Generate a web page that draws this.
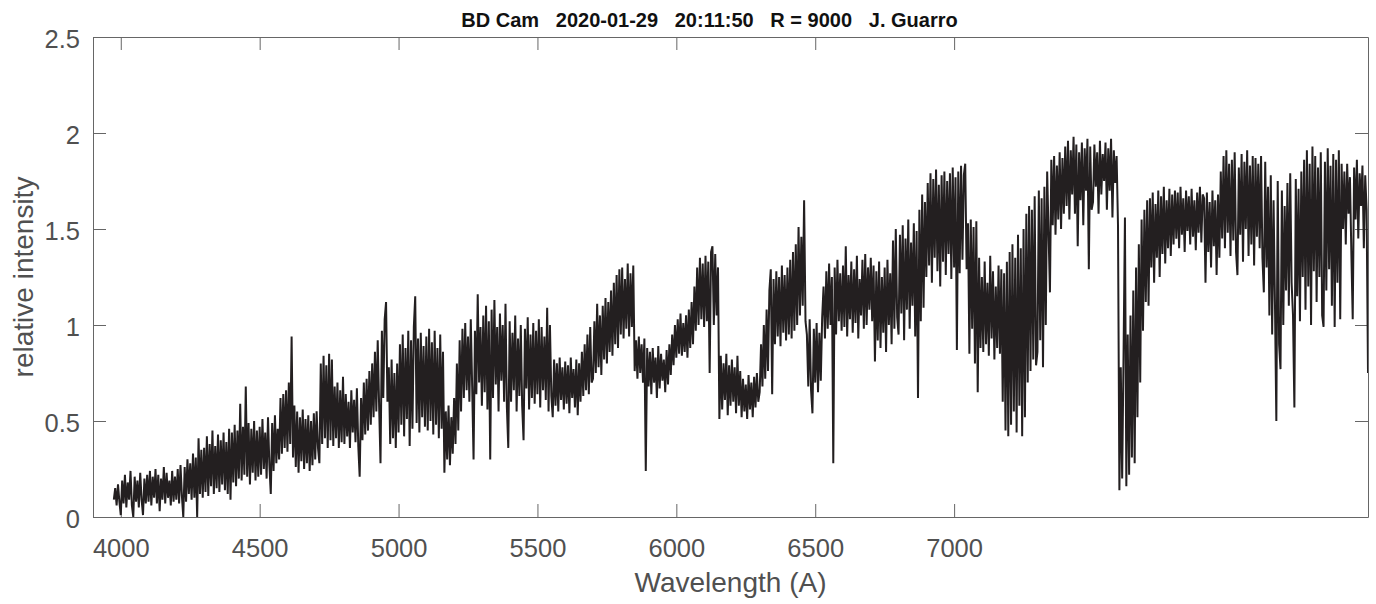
<!DOCTYPE html>
<html>
<head>
<meta charset="utf-8">
<script src="https://cdn.jsdelivr.net/npm/d3@7"></script>
<style>
  html, body { margin: 0; padding: 0; background: #fff; }
  #chart { width: 1376px; height: 604px; }
</style>
</head>
<body>
<div id="chart"></div>
<script>
// Spectrum sampling: first wavelength and step, in Angstrom.
const wavelengthStart = 3975;
const wavelengthStep = 5;

// Relative intensity, one row per 100 A.
const flux = [
  0.09, 0.15, 0.06, 0.17, 0.08, // 3975
  0.01, 0.19, 0.07, 0.22, 0.05, 0.18, 0.09, 0.24, 0.06, 0.00, 0.21, 0.08, 0.19, 0.05, 0.23, 0.09, 0.01, 0.20, 0.07, 0.22, // 4000
  0.08, 0.24, 0.06, 0.21, 0.10, 0.25, 0.07, 0.22, 0.03, 0.20, 0.09, 0.26, 0.07, 0.23, 0.10, 0.19, 0.06, 0.24, 0.08, 0.21, // 4100
  0.09, 0.25, 0.07, 0.27, 0.11, 0.00, 0.26, 0.08, 0.30, 0.12, 0.28, 0.09, 0.33, 0.10, 0.31, 0.00, 0.41, 0.12, 0.35, 0.10, // 4200
  0.36, 0.13, 0.42, 0.11, 0.38, 0.16, 0.45, 0.12, 0.37, 0.15, 0.43, 0.13, 0.40, 0.17, 0.44, 0.14, 0.39, 0.12, 0.46, 0.09, // 4300
  0.44, 0.18, 0.48, 0.16, 0.45, 0.20, 0.59, 0.19, 0.47, 0.22, 0.68, 0.21, 0.49, 0.17, 0.46, 0.23, 0.50, 0.19, 0.45, 0.21, // 4400
  0.47, 0.22, 0.51, 0.25, 0.44, 0.20, 0.52, 0.27, 0.12, 0.49, 0.24, 0.53, 0.28, 0.46, 0.30, 0.62, 0.33, 0.64, 0.36, 0.66, // 4500
  0.34, 0.70, 0.38, 0.94, 0.31, 0.58, 0.26, 0.55, 0.23, 0.52, 0.29, 0.56, 0.25, 0.51, 0.28, 0.53, 0.24, 0.50, 0.27, 0.54, // 4600
  0.30, 0.55, 0.36, 0.28, 0.80, 0.38, 0.84, 0.41, 0.79, 0.36, 0.85, 0.40, 0.82, 0.37, 0.68, 0.41, 0.70, 0.36, 0.66, 0.39, // 4700
  0.73, 0.38, 0.64, 0.42, 0.60, 0.36, 0.66, 0.44, 0.61, 0.39, 0.67, 0.37, 0.21, 0.62, 0.40, 0.70, 0.43, 0.72, 0.45, 0.76, // 4800
  0.48, 0.80, 0.52, 0.86, 0.55, 0.92, 0.58, 0.28, 0.97, 0.62, 1.03, 1.12, 0.60, 0.78, 0.38, 0.82, 0.41, 0.75, 0.36, 0.80, // 4900
  0.44, 0.90, 0.48, 0.95, 0.42, 0.88, 0.51, 0.97, 0.37, 0.92, 0.46, 0.99, 1.15, 0.49, 0.93, 0.44, 0.96, 0.52, 0.89, 0.47, // 5000
  0.94, 0.45, 0.98, 0.50, 0.91, 0.43, 0.97, 0.48, 0.88, 0.41, 0.95, 0.46, 0.86, 0.23, 0.55, 0.30, 0.58, 0.27, 0.52, 0.33, // 5100
  0.62, 0.38, 0.80, 0.45, 0.92, 0.55, 0.98, 0.62, 1.01, 0.66, 0.94, 0.60, 1.03, 0.68, 0.30, 0.97, 0.64, 1.16, 0.70, 0.99, // 5200
  0.58, 1.05, 0.65, 1.10, 0.56, 1.02, 0.30, 1.08, 0.62, 1.13, 0.69, 0.99, 0.55, 1.06, 0.71, 1.00, 0.60, 1.11, 0.57, 0.36, // 5300
  1.02, 0.60, 0.96, 0.66, 1.05, 0.55, 0.93, 0.63, 1.00, 0.58, 0.40, 0.98, 0.67, 1.04, 0.56, 0.95, 0.62, 1.01, 0.59, 0.97, // 5400
  0.64, 1.03, 0.57, 0.99, 0.66, 0.94, 0.61, 1.09, 0.55, 1.00, 0.63, 0.52, 0.82, 0.58, 0.80, 0.55, 0.83, 0.61, 0.78, 0.56, // 5500
  0.81, 0.59, 0.79, 0.54, 0.83, 0.62, 0.77, 0.57, 0.82, 0.53, 0.80, 0.60, 0.86, 0.63, 0.90, 0.66, 0.95, 0.64, 0.99, 0.70, // 5600
  0.72, 1.02, 0.75, 1.11, 0.78, 1.05, 0.74, 1.10, 0.82, 1.14, 0.80, 1.12, 0.86, 1.18, 0.84, 1.22, 0.90, 1.26, 0.88, 1.29, // 5700
  0.95, 1.30, 0.93, 1.24, 0.98, 1.32, 0.94, 1.27, 0.99, 1.31, 0.76, 0.92, 0.72, 0.94, 0.75, 0.90, 0.70, 0.93, 0.24, 0.88, // 5800
  0.68, 0.86, 0.64, 0.88, 0.70, 0.83, 0.62, 0.89, 0.67, 0.85, 0.71, 0.82, 0.65, 0.87, 0.69, 0.90, 0.74, 0.95, 0.79, 1.00, // 5900
  0.83, 1.03, 0.85, 1.06, 0.84, 1.01, 0.86, 1.05, 0.83, 1.08, 0.88, 1.12, 0.90, 1.20, 0.97, 1.30, 1.00, 1.35, 1.03, 1.32, // 6000
  0.99, 1.36, 1.02, 1.33, 0.75, 1.38, 1.41, 1.00, 1.37, 1.05, 1.30, 0.51, 0.84, 0.56, 0.80, 0.61, 0.85, 0.53, 0.79, 0.58, // 6100
  0.82, 0.60, 0.78, 0.54, 0.84, 0.58, 0.76, 0.52, 0.72, 0.55, 0.69, 0.51, 0.74, 0.56, 0.70, 0.52, 0.73, 0.57, 0.75, 0.60, // 6200
  0.65, 0.90, 0.68, 1.00, 0.72, 1.08, 0.76, 1.18, 1.29, 0.64, 1.24, 0.90, 1.28, 0.94, 1.25, 0.89, 1.31, 0.96, 1.26, 0.92, // 6300
  1.30, 0.95, 1.34, 0.93, 1.38, 0.97, 1.42, 1.00, 1.51, 1.05, 1.46, 1.10, 1.65, 1.02, 0.95, 0.68, 1.03, 0.66, 0.54, 0.98, // 6400
  0.70, 1.01, 0.65, 0.96, 0.71, 1.04, 1.20, 0.93, 1.28, 0.98, 1.32, 1.00, 1.25, 0.28, 1.30, 0.95, 1.34, 1.02, 1.27, 0.97, // 6500
  1.31, 0.99, 1.41, 0.94, 1.26, 1.03, 1.33, 0.96, 1.29, 1.01, 1.36, 0.93, 1.24, 1.05, 1.34, 0.98, 1.37, 1.00, 1.30, 1.08, // 6600
  1.35, 1.02, 1.31, 0.81, 1.28, 0.92, 1.33, 0.88, 1.25, 0.96, 1.30, 0.86, 1.34, 1.00, 1.27, 0.90, 1.44, 0.98, 1.50, 1.04, // 6700
  0.95, 1.47, 1.06, 1.52, 0.92, 1.45, 1.08, 1.55, 0.98, 1.43, 1.10, 1.53, 0.94, 1.49, 0.62, 1.60, 1.02, 1.68, 1.09, 1.64, // 6800
  1.25, 1.74, 1.31, 1.79, 1.22, 1.76, 1.35, 1.81, 1.28, 1.73, 1.20, 1.78, 1.33, 1.80, 1.26, 1.75, 1.37, 1.79, 1.24, 1.82, // 6900
  1.30, 1.77, 0.87, 1.80, 1.27, 1.83, 1.34, 1.78, 1.84, 1.29, 1.53, 0.85, 1.55, 0.98, 1.51, 0.80, 1.54, 0.65, 1.35, 0.88, // 7000
  1.25, 0.86, 1.33, 0.90, 1.22, 0.84, 1.36, 0.93, 1.28, 0.82, 1.20, 0.88, 1.31, 0.85, 1.29, 0.60, 1.27, 0.45, 1.33, 0.42, // 7100
  1.38, 0.48, 1.42, 0.55, 1.35, 0.44, 1.47, 0.58, 1.40, 0.42, 1.50, 0.52, 1.58, 0.70, 1.62, 0.76, 1.60, 0.82, 1.67, 0.79, // 7200
  0.86, 1.70, 0.92, 1.66, 0.78, 1.72, 1.00, 1.80, 1.48, 1.17, 1.86, 1.52, 1.88, 1.47, 1.83, 1.55, 1.90, 1.50, 1.87, 1.58, // 7300
  1.93, 1.62, 1.96, 1.55, 1.91, 1.68, 1.98, 1.58, 1.94, 1.41, 1.90, 1.65, 1.95, 1.52, 1.92, 1.70, 1.97, 1.29, 1.93, 1.60, // 7400
  1.64, 1.94, 1.72, 1.90, 1.58, 1.96, 1.68, 1.89, 1.75, 1.95, 1.60, 1.92, 1.70, 1.97, 1.56, 1.91, 1.74, 1.88, 1.52, 0.14, // 7500
  0.78, 0.20, 0.85, 1.56, 0.16, 0.95, 0.22, 1.05, 0.31, 1.18, 0.28, 1.30, 0.52, 1.42, 0.70, 1.55, 0.97, 1.60, 1.12, 1.65, // 7600
  1.10, 1.66, 1.30, 1.69, 1.22, 1.63, 1.35, 1.70, 1.25, 1.67, 1.37, 1.72, 1.32, 1.65, 1.40, 1.71, 1.36, 1.68, 1.42, 1.70, // 7700
  1.45, 1.69, 1.40, 1.72, 1.47, 1.66, 1.38, 1.70, 1.49, 1.67, 1.42, 1.71, 1.46, 1.65, 1.39, 1.69, 1.48, 1.72, 1.43, 1.68, // 7800
  1.66, 1.22, 1.69, 1.38, 1.64, 1.30, 1.70, 1.41, 1.65, 1.26, 1.68, 1.35, 1.80, 1.45, 1.88, 1.40, 1.91, 1.48, 1.84, 1.36, // 7900
  1.86, 1.44, 1.90, 1.38, 1.26, 1.82, 1.47, 1.89, 1.33, 1.85, 1.50, 1.91, 1.36, 1.83, 1.42, 1.88, 1.31, 1.87, 1.46, 1.84, // 8000
  1.40, 1.88, 1.35, 1.17, 1.85, 1.30, 1.72, 1.05, 1.78, 0.95, 1.65, 1.12, 0.50, 1.75, 0.90, 0.77, 1.70, 1.00, 1.62, 1.18, // 8100
  1.74, 1.10, 1.79, 1.22, 1.05, 0.57, 1.76, 1.15, 1.71, 1.02, 1.80, 1.25, 1.86, 1.08, 1.91, 1.20, 1.84, 1.00, 1.93, 1.28, // 8200
  1.88, 1.12, 1.82, 1.25, 1.90, 1.05, 0.99, 1.85, 1.18, 1.92, 1.29, 1.83, 1.10, 1.89, 0.99, 1.86, 1.22, 1.91, 1.03, 1.84, // 8300
  1.50, 1.80, 1.42, 1.84, 1.58, 1.77, 1.38, 1.03, 1.82, 1.55, 1.86, 1.45, 1.79, 1.62, 1.83, 1.40, 1.78, 1.60, 0.75 // 8400
];

// Axis limits and tick labels.
const xDomain = [3900, 8490];
const yDomain = [0, 2.5];
const xTickValues = [4000, 4500, 5000, 5500, 6000, 6500, 7000];
const yTickValues = [0, 0.5, 1, 1.5, 2, 2.5];

// Texts.
const titleText = "BD Cam   2020-01-29   20:11:50   R = 9000   J. Guarro";
const xAxisTitle = "Wavelength (A)";
const yAxisTitle = "relative intensity";

/**
 * Layout.
 */
const width = 1376;
const height = 604;
const marginTop = 37;
const marginRight = 8;
const marginBottom = 87;
const marginLeft = 93;
const tickLength = 13;
const fontFamily = "'Liberation Sans', Arial, Helvetica, sans-serif";
const axisColor = "#666666";
const labelColor = "#505050";
const lineColor = "#231f20";

// Create the SVG element.
const svg = d3
  .select("#chart")
  .append("svg")
  .attr("width", width)
  .attr("height", height)
  .style("background", "#fff");

// Create the horizontal scale.
const x = d3
  .scaleLinear()
  .domain(xDomain)
  .range([marginLeft, width - marginRight]);

// Create the vertical scale.
const y = d3
  .scaleLinear()
  .domain(yDomain)
  .range([height - marginBottom, marginTop]);

/**
 * Axes (box with inward ticks on all four sides).
 */
function styleAxis(g) {
  g.attr("font-family", fontFamily).attr("font-size", 25.5);
  g.select(".domain").attr("stroke", axisColor).attr("stroke-width", 1);
  g.selectAll(".tick line").attr("stroke", axisColor).attr("stroke-width", 1);
  g.selectAll(".tick text").attr("fill", labelColor);
}

// Bottom x-axis.
svg
  .append("g")
  .attr("transform", `translate(0, ${height - marginBottom})`)
  .call(
    d3
      .axisBottom(x)
      .tickValues(xTickValues)
      .tickFormat(d3.format("d"))
      .tickSizeInner(-tickLength)
      .tickSizeOuter(0)
      .tickPadding(22)
  )
  .call(styleAxis);

// Top x-axis, ticks only.
svg
  .append("g")
  .attr("transform", `translate(0, ${marginTop})`)
  .call(
    d3
      .axisTop(x)
      .tickValues(xTickValues)
      .tickFormat(() => "")
      .tickSizeInner(-tickLength)
      .tickSizeOuter(0)
  )
  .call(styleAxis);

// Left y-axis.
svg
  .append("g")
  .attr("transform", `translate(${marginLeft}, 0)`)
  .call(
    d3
      .axisLeft(y)
      .tickValues(yTickValues)
      .tickFormat(d3.format("~g"))
      .tickSizeInner(-tickLength)
      .tickSizeOuter(0)
      .tickPadding(13)
  )
  .call(styleAxis)
  .call((g) => g.selectAll(".tick text").attr("dy", "0.4em"));

// Right y-axis, ticks only.
svg
  .append("g")
  .attr("transform", `translate(${width - marginRight}, 0)`)
  .call(
    d3
      .axisRight(y)
      .tickValues(yTickValues)
      .tickFormat(() => "")
      .tickSizeInner(-tickLength)
      .tickSizeOuter(0)
  )
  .call(styleAxis);

/**
 * Titles.
 */
svg
  .append("text")
  .attr("x", 709.5)
  .attr("y", 27)
  .attr("text-anchor", "middle")
  .attr("font-family", fontFamily)
  .attr("font-size", 20)
  .attr("font-weight", "bold")
  .attr("fill", "#111")
  .style("white-space", "pre")
  .text(titleText);

svg
  .append("text")
  .attr("x", (marginLeft + width - marginRight) / 2)
  .attr("y", 592)
  .attr("text-anchor", "middle")
  .attr("font-family", fontFamily)
  .attr("font-size", 28)
  .attr("fill", labelColor)
  .text(xAxisTitle);

svg
  .append("text")
  .attr("transform", `translate(33, ${(marginTop + height - marginBottom) / 2}) rotate(-90)`)
  .attr("text-anchor", "middle")
  .attr("font-family", fontFamily)
  .attr("font-size", 28)
  .attr("fill", labelColor)
  .text(yAxisTitle);

/**
 * Spectrum.
 */
svg
  .append("clipPath")
  .attr("id", "plot-clip")
  .append("rect")
  .attr("x", marginLeft)
  .attr("y", marginTop)
  .attr("width", width - marginRight - marginLeft)
  .attr("height", height - marginBottom - marginTop);

const spectrumLine = d3
  .line()
  .x((d, i) => x(wavelengthStart + i * wavelengthStep))
  .y((d) => y(d));

svg
  .append("path")
  .datum(flux)
  .attr("clip-path", "url(#plot-clip)")
  .attr("fill", "none")
  .attr("stroke", lineColor)
  .attr("stroke-width", 2)
  .attr("stroke-linejoin", "bevel")
  .attr("d", spectrumLine);
</script>
</body>
</html>
